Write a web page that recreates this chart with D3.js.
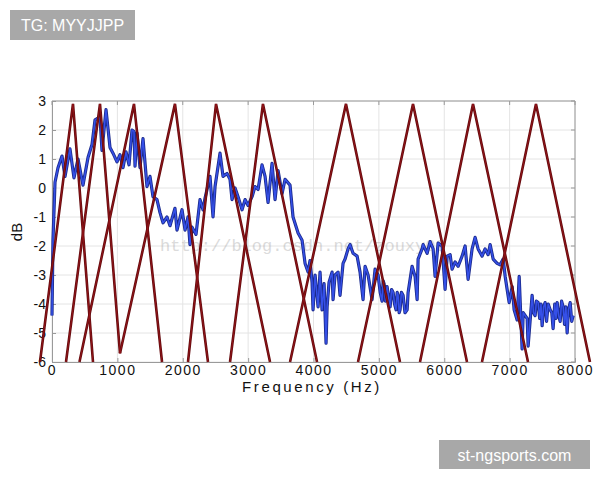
<!DOCTYPE html>
<html>
<head>
<meta charset="utf-8">
<script src="https://cdn.jsdelivr.net/npm/d3@7"></script>
<style>
  body { margin: 0; background: #fff; }
  svg { display: block; }
</style>
</head>
<body>
<svg id="chart" width="600" height="480"></svg>
<script>
// spectrum (blue), Hz and dB
var specHz = [0, 15, 46, 92, 153, 199, 275, 336, 398, 474, 551, 612, 658, 734, 765, 826, 887, 933, 994,
  1040, 1086, 1132, 1178, 1224, 1254, 1270, 1300, 1346, 1392, 1453, 1499, 1545, 1606, 1652, 1698, 1759,
  1805, 1881, 1912, 1989, 2035, 2080, 2111, 2142, 2203, 2264, 2310, 2341, 2417, 2463, 2494, 2570, 2616,
  2677, 2723, 2754, 2800, 2846, 2907, 2953, 2999, 3060, 3106, 3152, 3213, 3259, 3305, 3366, 3412, 3458,
  3519, 3565, 3641, 3687, 3764, 3825, 3871, 3917, 3947, 3978, 3993, 4024, 4070, 4100, 4131, 4162, 4192,
  4208, 4238, 4284, 4299, 4330, 4376, 4406, 4452, 4483, 4529, 4559, 4605, 4667, 4712, 4758, 4789, 4835,
  4896, 4942, 4988, 5020, 5049, 5065, 5080, 5100, 5126, 5150, 5172, 5195, 5218, 5240, 5263, 5280, 5294,
  5310, 5324, 5345, 5370, 5400, 5432, 5447, 5508, 5554, 5585, 5600, 5661, 5677, 5738, 5784, 5830, 5860,
  5906, 5967, 6013, 6044, 6090, 6120, 6166, 6212, 6273, 6319, 6365, 6426, 6472, 6518, 6579, 6625, 6671,
  6702, 6748, 6809, 6855, 6901, 6932, 6962, 6993, 7039, 7069, 7115, 7146, 7191, 7207, 7268, 7283, 7344,
  7365, 7390, 7410, 7436, 7460, 7480, 7497, 7520, 7543, 7565, 7590, 7620, 7645, 7665, 7690, 7710, 7727,
  7750, 7773, 7795, 7819, 7840, 7860, 7880, 7900, 7926, 7950, 7972];
var specDb = [-4.4, -1.8, 0.2, 0.7, 1.1, 0.4, 1.35, 0.35, 1.0, 0.1, 1.05, 1.5, 2.35, 2.45, 1.3, 2.7, 1.4, 1.2, 0.9,
  1.15, 0.7, 1.25, 0.8, 2.0, 1.95, 0.75, 1.9, 0.7, 1.7, 0.05, 0.4, -0.3, -0.4, -0.85, -1.2, -1.0,
  -1.3, -0.7, -1.45, -0.75, -1.45, -1.0, -1.95, -1.35, -1.6, -0.4, -0.75, -0.35, 0.4, -1.0, 0.05, 1.2, 0.4,
  0.5, 0.3, -0.4, 0, -0.3, -0.75, -0.4, -0.6, -0.3, 0.05, -0.05, 0.8, 0.4, -0.5, 0.85, -0.4, 0.6,
  -0.2, 0.3, 0.1, -1.0, -1.55, -1.8, -2.6, -2.9, -2.5, -3.25, -4.2, -3.0, -4.1, -2.9, -4.2, -3.3, -5.35,
  -4.1, -3.25, -2.9, -3.85, -3.0, -2.9, -3.7, -2.6, -2.45, -2.1, -1.95, -2.25, -2.35, -2.9, -3.85, -2.7, -3.0,
  -3.85, -2.8, -3.0, -3.6, -3.9, -3.2, -3.3, -3.9, -3.4, -3.8, -4.1, -3.5, -3.6, -4.0, -4.2, -3.6, -3.7,
  -4.3, -4.2, -3.6, -3.7, -4.3, -4.2, -3.6, -2.7, -3.05, -3.85, -2.45, -2.1, -1.95, -2.25, -1.85, -2.1, -3.05,
  -1.9, -2.0, -3.5, -2.35, -2.3, -2.8, -2.55, -2.7, -2.35, -2.0, -3.15, -2.1, -1.7, -2.1, -2.35, -2.1, -2.3,
  -1.95, -2.45, -2.6, -2.65, -2.45, -3.05, -3.5, -3.95, -3.4, -4.2, -4.55, -3.05, -5.55, -4.3, -4.5, -5.45, -3.7,
  -4.3, -4.4, -3.9, -3.95, -4.5, -4.0, -4.75, -4.1, -3.95, -4.6, -4.0, -4.2, -4.3, -4.85, -4.0, -4.5, -3.95,
  -4.4, -4.6, -3.9, -4.1, -4.7, -4.1, -5.0, -4.2, -3.95, -4.6, -4.4];

// triangles (dark red), feet and peaks in Hz
var triLeftHz = [-184, 214, 420, 1040, 2080, 2723, 3641, 4681, 5629, 6577];
var triPeakHz = [321, 734, 1254, 1881, 2509, 3227, 4497, 5522, 6440, 7403];
var triRightHz = [627, 1040, 1683, 2386, 3335, 4054, 5323, 6348, 7281, 8229];
var triLeftDb = [-6, -6, -6, -5.7, -6, -6, -6, -6, -6, -6];
var triRightDb = [-6, -5.7, -6, -6, -6, -6, -6, -6, -6, -6];
var triPeakDb = 2.9;

var xTicks = [0, 1000, 2000, 3000, 4000, 5000, 6000, 7000, 8000];
var yTicks = [-6, -5, -4, -3, -2, -1, 0, 1, 2, 3];

function init() {

    var svg = d3.select('#chart');
    var pLeft = 52, pTop = 101, pRight = 575, pBottom = 362;

    var x = d3.scaleLinear().domain([0, 8000]).range([pLeft, pRight]);
    var y = d3.scaleLinear().domain([-6, 3]).range([pBottom, pTop]);

    //grid
    var grid = svg.append('g');
    grid.selectAll('line.vx').data(xTicks).enter().append('line')
        .attr('x1', function(d) { return x(d); }).attr('x2', function(d) { return x(d); })
        .attr('y1', pTop).attr('y2', pBottom)
        .attr('stroke', '#e4e4e4').attr('stroke-width', 1);
    grid.selectAll('line.hy').data(yTicks).enter().append('line')
        .attr('y1', function(d) { return y(d); }).attr('y2', function(d) { return y(d); })
        .attr('x1', pLeft).attr('x2', pRight)
        .attr('stroke', '#e4e4e4').attr('stroke-width', 1);

    //axes
    var xAxis = d3.axisBottom(x).tickValues(xTicks).tickSize(-4).tickPadding(3).tickFormat(d3.format('d'));
    var yAxis = d3.axisLeft(y).tickValues(yTicks).tickSize(-4).tickPadding(6).tickFormat(d3.format('d'));

    var gx = svg.append('g').attr('transform', 'translate(0,' + pBottom + ')').call(xAxis);
    var gy = svg.append('g').attr('transform', 'translate(' + pLeft + ',0)').call(yAxis);
    [gx, gy].forEach(function(g) {
        g.select('.domain').attr('stroke', '#9a9a9a');
        g.selectAll('.tick line').attr('stroke', '#9a9a9a');
        g.selectAll('.tick text')
            .attr('fill', '#111')
            .style('font-family', 'Liberation Sans, Arial, sans-serif')
            .style('font-size', '14px');
    });
    gx.selectAll('.tick text').style('letter-spacing', '1.5px');
    gy.selectAll('.tick text').text(function(d) { return d < 0 ? '-' + (-d) : d; });

    //frame top and right
    svg.append('line').attr('x1', pLeft).attr('x2', pRight).attr('y1', pTop).attr('y2', pTop)
        .attr('stroke', '#9a9a9a');
    svg.append('line').attr('x1', pRight).attr('x2', pRight).attr('y1', pTop).attr('y2', pBottom)
        .attr('stroke', '#9a9a9a');
    svg.selectAll('line.rt').data(yTicks).enter().append('line')
        .attr('x1', pRight - 4).attr('x2', pRight)
        .attr('y1', function(d) { return y(d); }).attr('y2', function(d) { return y(d); })
        .attr('stroke', '#9a9a9a');
    svg.selectAll('line.tp').data(xTicks).enter().append('line')
        .attr('x1', function(d) { return x(d); }).attr('x2', function(d) { return x(d); })
        .attr('y1', pTop).attr('y2', pTop + 4)
        .attr('stroke', '#9a9a9a');

    //labels
    svg.append('text')
        .attr('x', 312).attr('y', 392)
        .attr('text-anchor', 'middle')
        .style('font-family', 'Liberation Sans, Arial, sans-serif')
        .style('font-size', '15px')
        .style('letter-spacing', '2.6px')
        .attr('fill', '#111')
        .text('Frequency (Hz)');
    svg.append('text')
        .attr('transform', 'translate(22,232) rotate(-90)')
        .attr('text-anchor', 'middle')
        .style('font-family', 'Liberation Sans, Arial, sans-serif')
        .style('font-size', '15px')
        .attr('fill', '#111')
        .text('dB');

    //faint watermark across the plot
    svg.append('text')
        .attr('x', 160).attr('y', 251)
        .style('font-family', 'Liberation Mono, DejaVu Sans Mono, monospace')
        .style('font-size', '17px')
        .attr('fill', '#999')
        .attr('opacity', 0.35)
        .text('http://blog.csdn.net/zouxy09');

    //spectrum line
    var line = d3.line()
        .x(function(d) { return x(d[0]); })
        .y(function(d) { return y(d[1]); });
    var spec = specHz.map(function(h, i) { return [h, specDb[i]]; });

    svg.append('path').datum(spec)
        .attr('d', line)
        .attr('fill', 'none')
        .attr('stroke', '#1b2a8c')
        .attr('stroke-width', 3.2)
        .attr('stroke-linejoin', 'round');
    svg.append('path').datum(spec)
        .attr('d', line)
        .attr('fill', 'none')
        .attr('stroke', '#3550e8')
        .attr('stroke-width', 1.5)
        .attr('stroke-linejoin', 'round');

    //triangles
    var tris = triPeakHz.map(function(p, i) {
        return [[triLeftHz[i], triLeftDb[i]], [p, triPeakDb], [triRightHz[i], triRightDb[i]]];
    });
    svg.selectAll('path.tri').data(tris).enter().append('path')
        .attr('class', 'tri')
        .attr('d', line)
        .attr('fill', 'none')
        .attr('stroke', '#640b0e')
        .attr('stroke-width', 2.6)
        .attr('stroke-linejoin', 'miter');
    svg.selectAll('path.tri2').data(tris).enter().append('path')
        .attr('class', 'tri2')
        .attr('d', line)
        .attr('fill', 'none')
        .attr('stroke', '#9c151a')
        .attr('stroke-width', 0.8);

    //tag boxes
    function tag(x0, y0, w, h, label) {
        svg.append('rect').attr('x', x0).attr('y', y0).attr('width', w).attr('height', h)
            .attr('fill', '#a8a8a8');
        svg.append('text')
            .attr('x', x0 + w / 2).attr('y', y0 + h / 2 + 6)
            .attr('text-anchor', 'middle')
            .style('font-family', 'Liberation Sans, Arial, sans-serif')
            .style('font-size', '16px')
            .attr('fill', '#fff')
            .text(label);
    }
    tag(10, 10, 125, 30, 'TG: MYYJJPP');
    tag(439, 440, 151, 29, 'st-ngsports.com');
}

init();
</script>
</body>
</html>
